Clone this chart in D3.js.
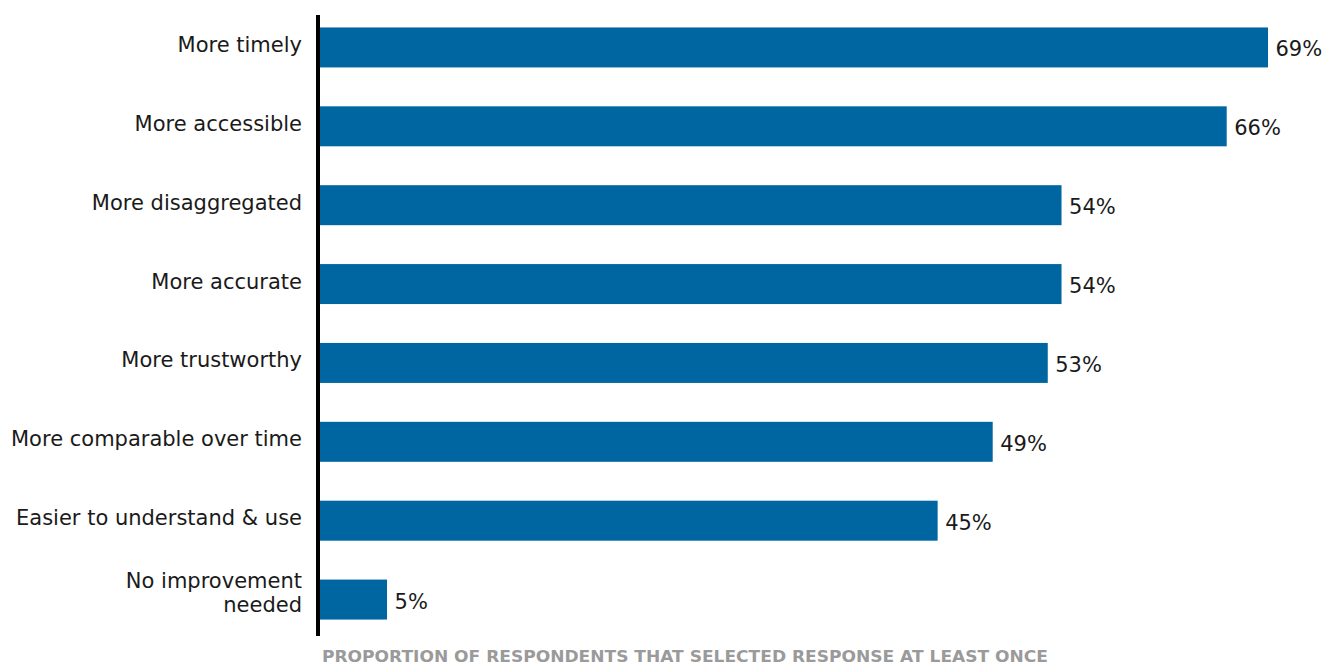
<!DOCTYPE html>
<html>
<head>
<meta charset="utf-8">
<script src="https://cdn.jsdelivr.net/npm/d3@7"></script>
<style>
  html, body { margin: 0; padding: 0; background: #ffffff; }
  svg { display: block; }
</style>
</head>
<body>
<svg id="chart" width="1328" height="666"></svg>
<script>
// Data
const categories = [
  "More timely",
  "More accessible",
  "More disaggregated",
  "More accurate",
  "More trustworthy",
  "More comparable over time",
  "Easier to understand & use",
  "No improvement needed"
];
const values = [69, 66, 54, 54, 53, 49, 45, 5];
const valueLabels = ["69%", "66%", "54%", "54%", "53%", "49%", "45%", "5%"];
const axisTitle = "PROPORTION OF RESPONDENTS THAT SELECTED RESPONSE AT LEAST ONCE";

const svg = d3.select("#chart");
const barColor = "#0066a1";
const font = "'DejaVu Sans', sans-serif";

const x = d3.scaleLinear().domain([0, 69]).range([318.2, 1268]);
const y = d3.scaleBand().domain(categories).range([8, 639])
  .paddingInner(0.493).paddingOuter(0.2465);

const rows = categories.map((c, i) => ({ cat: c, v: values[i], lab: valueLabels[i] }));

// Bars
svg.append("g").selectAll("rect").data(rows).join("rect")
  .attr("x", x(0))
  .attr("y", d => y(d.cat))
  .attr("width", d => x(d.v) - x(0))
  .attr("height", y.bandwidth())
  .attr("fill", barColor);

// Axis line (vertical)
svg.append("line")
  .attr("x1", 318).attr("x2", 318)
  .attr("y1", 15).attr("y2", 636)
  .attr("stroke", "#000").attr("stroke-width", 4);

// Category labels
const labelsG = svg.append("g");
rows.forEach(d => {
  const cy = y(d.cat) + y.bandwidth() / 2;
  const t = labelsG.append("text")
    .attr("text-anchor", "end")
    .attr("font-family", font)
    .attr("font-size", 21)
    .attr("fill", "#1a1a1a");
  if (d.cat === "No improvement needed") {
    t.append("tspan").attr("x", 302).attr("y", cy - 11.5).text("No improvement");
    t.append("tspan").attr("x", 302).attr("y", cy + 12.5).text("needed");
  } else {
    t.attr("x", 302).attr("y", cy + 4.5).text(d.cat);
  }
});

// Value labels
svg.append("g").selectAll("text").data(rows).join("text")
  .attr("x", d => x(d.v) + 7.5)
  .attr("y", d => y(d.cat) + y.bandwidth() / 2 + 9)
  .attr("font-family", font)
  .attr("font-size", 21)
  .attr("fill", "#1a1a1a")
  .text(d => d.lab);

// Axis title
svg.append("text")
  .attr("x", 322)
  .attr("y", 662)
  .attr("font-family", font)
  .attr("font-weight", 700)
  .attr("font-size", 16)
  .attr("fill", "#9a9a9a")
  .attr("textLength", 726)
  .attr("lengthAdjust", "spacingAndGlyphs")
  .text(axisTitle);
</script>
</body>
</html>
